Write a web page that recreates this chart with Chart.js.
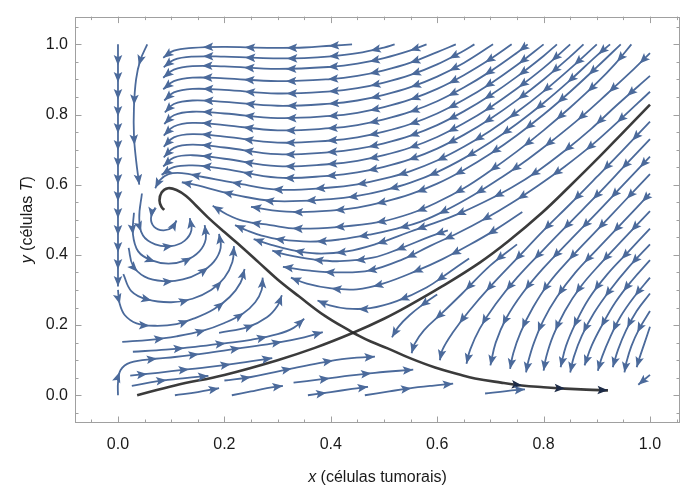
<!DOCTYPE html>
<html>
<head>
<meta charset="utf-8">
<script src="https://cdn.jsdelivr.net/npm/chart.js@4.4.1/dist/chart.umd.min.js"></script>
<style>
  html, body { margin: 0; padding: 0; background: #ffffff; }
  canvas { display: block; }
</style>
</head>
<body>
<canvas id="phase" width="681" height="489"></canvas>
<script>
// ---- axes ----
const xRange = [-0.0808, 1.0564];
const yRange = [-0.0791, 1.0791];
const xTicks = [0, 0.2, 0.4, 0.6, 0.8, 1.0];
const yTicks = [0, 0.2, 0.4, 0.6, 0.8, 1.0];
const xTickLabels = ['0.0', '0.2', '0.4', '0.6', '0.8', '1.0'];
const yTickLabels = ['0.0', '0.2', '0.4', '0.6', '0.8', '1.0'];

// ---- separatrices through the saddle ----
const stableManifold = [[0.036,0.0],[0.107,0.028],[0.2,0.058],[0.3,0.1],[0.37,0.135],[0.442,0.178],[0.5,0.218],[0.545,0.254],[0.609,0.31],[0.68,0.378],[0.733,0.438],[0.797,0.52],[0.85,0.597],[0.9,0.672],[0.95,0.75],[1.0,0.828]];
const unstableLeft = [[0.442,0.178],[0.389,0.226],[0.34,0.282],[0.3,0.33],[0.265,0.378],[0.233,0.422],[0.2,0.465],[0.169,0.507],[0.147,0.54],[0.128,0.568],[0.11,0.585],[0.094,0.59],[0.082,0.578],[0.078,0.555],[0.082,0.536],[0.087,0.528]];
const unstableRight = [[0.442,0.178],[0.475,0.153],[0.508,0.133],[0.55,0.105],[0.596,0.079],[0.64,0.06],[0.671,0.048],[0.72,0.036],[0.759,0.028],[0.8,0.023],[0.84,0.019],[0.88,0.016],[0.921,0.014]];

// ---- streamlines, each listed in the direction of the flow ----
const topFamily = [
  [[0.44,1.0],[0.4,0.996],[0.35,0.991],[0.3,0.99],[0.25,0.991],[0.2,0.993],[0.14,0.99],[0.105,0.982],[0.085,0.962]],
  [[0.52,1.0],[0.5,0.991],[0.45,0.975],[0.4,0.966],[0.35,0.961],[0.3,0.96],[0.25,0.962],[0.2,0.965],[0.14,0.965],[0.105,0.956],[0.086,0.935]],
  [[0.58,1.0],[0.55,0.983],[0.5,0.961],[0.45,0.945],[0.4,0.936],[0.3,0.93],[0.2,0.937],[0.14,0.938],[0.105,0.928],[0.085,0.905]],
  [[0.635,1.0],[0.6,0.978],[0.55,0.948],[0.5,0.926],[0.45,0.91],[0.4,0.901],[0.3,0.895],[0.2,0.903],[0.14,0.905],[0.105,0.895],[0.085,0.872]],
  [[0.67,1.0],[0.65,0.982],[0.6,0.943],[0.55,0.913],[0.5,0.891],[0.45,0.875],[0.4,0.866],[0.3,0.86],[0.2,0.87],[0.14,0.873],[0.105,0.863],[0.087,0.84]],
  [[0.705,1.0],[0.65,0.947],[0.6,0.908],[0.55,0.878],[0.5,0.856],[0.45,0.84],[0.4,0.831],[0.3,0.825],[0.2,0.836],[0.14,0.84],[0.105,0.83],[0.088,0.806]],
  [[0.74,1.0],[0.7,0.958],[0.65,0.912],[0.6,0.873],[0.55,0.843],[0.5,0.821],[0.45,0.805],[0.4,0.796],[0.3,0.79],[0.2,0.803],[0.14,0.808],[0.105,0.798],[0.087,0.773]],
  [[0.77,1.0],[0.75,0.976],[0.7,0.923],[0.65,0.877],[0.6,0.838],[0.55,0.808],[0.5,0.786],[0.45,0.77],[0.4,0.761],[0.3,0.755],[0.2,0.77],[0.14,0.776],[0.105,0.766],[0.086,0.74]],
  [[0.8,1.0],[0.75,0.941],[0.7,0.888],[0.65,0.842],[0.6,0.803],[0.55,0.773],[0.5,0.751],[0.45,0.735],[0.4,0.726],[0.3,0.72],[0.2,0.737],[0.14,0.744],[0.105,0.735],[0.086,0.708]],
  [[0.825,1.0],[0.8,0.967],[0.75,0.908],[0.7,0.855],[0.65,0.809],[0.6,0.77],[0.55,0.74],[0.5,0.718],[0.45,0.702],[0.4,0.693],[0.3,0.687],[0.2,0.706],[0.14,0.714],[0.105,0.705],[0.086,0.678]],
  [[0.85,1.0],[0.8,0.933],[0.75,0.874],[0.7,0.821],[0.65,0.775],[0.6,0.736],[0.55,0.706],[0.5,0.684],[0.45,0.668],[0.4,0.659],[0.3,0.653],[0.2,0.674],[0.14,0.684],[0.105,0.677],[0.085,0.652]],
  [[0.875,1.0],[0.85,0.965],[0.8,0.9],[0.75,0.841],[0.7,0.788],[0.65,0.742],[0.6,0.703],[0.55,0.673],[0.5,0.651],[0.45,0.635],[0.4,0.626],[0.3,0.62],[0.2,0.645],[0.14,0.655],[0.105,0.65],[0.082,0.628]],
  [[0.9,1.0],[0.85,0.931],[0.8,0.866],[0.75,0.807],[0.7,0.754],[0.65,0.708],[0.6,0.669],[0.55,0.639],[0.5,0.617],[0.45,0.601],[0.4,0.592],[0.3,0.586],[0.22,0.605],[0.16,0.622],[0.12,0.633],[0.095,0.63],[0.078,0.612],[0.07,0.59]],
  [[0.925,1.0],[0.9,0.968],[0.85,0.898],[0.8,0.833],[0.75,0.774],[0.7,0.721],[0.65,0.675],[0.6,0.636],[0.55,0.606],[0.5,0.584],[0.45,0.568],[0.4,0.559],[0.3,0.553],[0.24,0.565],[0.19,0.582],[0.15,0.598],[0.12,0.607]],
  [[0.945,1.0],[0.9,0.935],[0.85,0.865],[0.8,0.8],[0.75,0.741],[0.7,0.688],[0.65,0.642],[0.6,0.603],[0.55,0.573],[0.5,0.551],[0.45,0.535],[0.4,0.526],[0.34,0.522],[0.29,0.527],[0.25,0.537]]
];

const saddleFamily = [
  [[0.965,1.0],[0.935,0.945],[0.9,0.89],[0.85,0.82],[0.8,0.755],[0.75,0.695],[0.7,0.64],[0.65,0.59],[0.6,0.55],[0.55,0.518],[0.492,0.494],[0.417,0.48],[0.336,0.475],[0.286,0.485],[0.235,0.497],[0.205,0.515],[0.178,0.54]],
  [[1.0,0.975],[0.97,0.93],[0.92,0.86],[0.87,0.792],[0.82,0.73],[0.77,0.672],[0.72,0.62],[0.67,0.572],[0.62,0.53],[0.568,0.494],[0.524,0.475],[0.474,0.458],[0.417,0.444],[0.361,0.438],[0.305,0.444],[0.27,0.455],[0.245,0.468],[0.22,0.485]],
  [[1.0,0.91],[0.94,0.83],[0.89,0.76],[0.84,0.697],[0.79,0.64],[0.74,0.592],[0.69,0.552],[0.64,0.517],[0.586,0.486],[0.549,0.466],[0.487,0.432],[0.43,0.41],[0.374,0.404],[0.323,0.415],[0.285,0.43],[0.255,0.445]],
  [[0.62,0.47],[0.586,0.452],[0.53,0.418],[0.479,0.392],[0.417,0.382],[0.367,0.387],[0.318,0.4],[0.29,0.412]],
  [[1.0,0.865],[0.94,0.78],[0.89,0.712],[0.84,0.652],[0.79,0.598],[0.74,0.548],[0.69,0.503],[0.64,0.463],[0.586,0.425],[0.536,0.388],[0.474,0.356],[0.417,0.35],[0.361,0.355],[0.31,0.366]],
  [[0.76,0.522],[0.71,0.472],[0.66,0.428],[0.61,0.388],[0.562,0.355],[0.498,0.318],[0.449,0.302],[0.398,0.305],[0.355,0.318],[0.325,0.335]],
  [[0.66,0.39],[0.62,0.348],[0.58,0.307],[0.524,0.268],[0.474,0.248],[0.43,0.247],[0.398,0.256],[0.375,0.27]]
];

const lowerRight = [
  [[0.6,0.287],[0.577,0.263],[0.548,0.228],[0.527,0.195],[0.515,0.165]],
  [[0.75,0.43],[0.7,0.37],[0.647,0.29],[0.609,0.234],[0.575,0.185],[0.557,0.145],[0.552,0.12]],
  [[1.0,0.78],[0.95,0.7],[0.9,0.622],[0.85,0.545],[0.8,0.47],[0.75,0.39],[0.7,0.31],[0.66,0.24],[0.63,0.18],[0.61,0.13],[0.605,0.1]],
  [[1.0,0.73],[0.95,0.65],[0.9,0.57],[0.85,0.493],[0.8,0.415],[0.75,0.335],[0.71,0.26],[0.68,0.19],[0.662,0.13],[0.655,0.09]],
  [[1.0,0.68],[0.95,0.6],[0.9,0.52],[0.85,0.442],[0.8,0.363],[0.76,0.29],[0.73,0.22],[0.71,0.15],[0.7,0.085]],
  [[1.0,0.63],[0.95,0.55],[0.9,0.47],[0.85,0.39],[0.81,0.32],[0.78,0.25],[0.757,0.18],[0.743,0.12],[0.737,0.075]],
  [[1.0,0.575],[0.95,0.495],[0.9,0.415],[0.86,0.35],[0.825,0.28],[0.8,0.215],[0.782,0.15],[0.771,0.095],[0.767,0.065]],
  [[1.0,0.525],[0.95,0.445],[0.91,0.38],[0.87,0.31],[0.84,0.24],[0.818,0.17],[0.805,0.11],[0.8,0.07]],
  [[1.0,0.475],[0.96,0.41],[0.92,0.345],[0.885,0.275],[0.86,0.205],[0.842,0.14],[0.832,0.08]],
  [[1.0,0.43],[0.96,0.365],[0.925,0.3],[0.895,0.235],[0.872,0.17],[0.857,0.11],[0.85,0.065]],
  [[1.0,0.385],[0.965,0.325],[0.935,0.265],[0.91,0.2],[0.89,0.14],[0.877,0.085]],
  [[1.0,0.335],[0.97,0.28],[0.945,0.225],[0.925,0.165],[0.91,0.11],[0.902,0.07]],
  [[1.0,0.29],[0.975,0.24],[0.955,0.185],[0.94,0.13],[0.93,0.08]],
  [[1.0,0.24],[0.98,0.19],[0.965,0.14],[0.955,0.09],[0.952,0.065]],
  [[1.0,0.195],[0.99,0.15],[0.98,0.105],[0.975,0.08]],
  [[1.0,0.058],[0.978,0.03]]
];

const spiralArcs = [
  [[0.07,0.535],[0.062,0.505],[0.068,0.48],[0.085,0.47],[0.102,0.478],[0.11,0.498]],
  [[0.045,0.575],[0.04,0.505],[0.047,0.455],[0.07,0.43],[0.1,0.425],[0.125,0.44],[0.138,0.47],[0.135,0.505]],
  [[0.03,0.52],[0.028,0.46],[0.038,0.41],[0.062,0.385],[0.095,0.375],[0.128,0.385],[0.153,0.41],[0.165,0.445],[0.163,0.485]],
  [[0.02,0.42],[0.028,0.37],[0.05,0.338],[0.085,0.325],[0.122,0.33],[0.155,0.35],[0.18,0.38],[0.193,0.42],[0.19,0.46]],
  [[0.01,0.345],[0.025,0.297],[0.055,0.273],[0.1,0.265],[0.14,0.275],[0.175,0.3],[0.2,0.335],[0.215,0.38],[0.218,0.425]]
];

// the x = 0 edge (dense arrows) and the lines just right of it
const edgeLine = [[0.0,1.0],[0.0,0.31]];
const leftColumn = [
  [[0.055,1.0],[0.042,0.955],[0.034,0.9],[0.03,0.82],[0.03,0.74],[0.034,0.67],[0.04,0.6]],
  [[0.0,0.3],[0.003,0.262],[0.013,0.228],[0.035,0.205],[0.07,0.198],[0.11,0.203],[0.145,0.22],[0.18,0.245],[0.21,0.28],[0.23,0.32],[0.238,0.36]]
];

const wedgeLines = [
  [[0.0,0.0],[0.0,0.035],[0.005,0.072],[0.023,0.093],[0.07,0.104],[0.107,0.109],[0.17,0.121],[0.233,0.135],[0.3,0.15],[0.35,0.165],[0.385,0.18]],
  [[0.023,0.056],[0.075,0.064],[0.126,0.073],[0.169,0.08],[0.22,0.09],[0.29,0.106]],
  [[0.026,0.027],[0.075,0.04],[0.126,0.049],[0.17,0.055]],
  [[0.028,0.124],[0.09,0.13],[0.145,0.138],[0.2,0.148],[0.25,0.158],[0.3,0.174],[0.33,0.192],[0.35,0.218]],
  [[0.19,0.178],[0.245,0.195],[0.28,0.222],[0.3,0.255],[0.308,0.285]],
  [[0.008,0.152],[0.06,0.158],[0.11,0.168],[0.16,0.184],[0.2,0.206],[0.235,0.233],[0.258,0.265],[0.27,0.3],[0.272,0.335]]
];

const bottomLines = [
  [[0.107,0.0],[0.15,0.009],[0.19,0.02]],
  [[0.214,0.0],[0.25,0.011],[0.28,0.02],[0.31,0.027]],
  [[0.357,0.0],[0.4,0.009],[0.44,0.018],[0.47,0.024]],
  [[0.464,0.0],[0.51,0.011],[0.545,0.019],[0.59,0.027],[0.63,0.033]],
  [[0.33,0.036],[0.38,0.045],[0.42,0.053],[0.483,0.064],[0.555,0.073]],
  [[0.2,0.042],[0.25,0.052],[0.295,0.066],[0.333,0.078],[0.38,0.092],[0.421,0.103],[0.483,0.11]],
  [[0.69,0.005],[0.73,0.012],[0.765,0.017]]
];

// ---- styling ----
const STREAM = '#4b6a9b';
const SEPARATRIX = 'rgba(38,38,38,0.9)';
const FONT = '"Liberation Sans", Arial, Helvetica, sans-serif';

const toXY = line => line.map(([x, y]) => ({ x, y }));
const datasets = [];

// separatrices first so that they sit above the streamlines
datasets.push({ data: toXY(unstableRight), borderColor: SEPARATRIX, borderWidth: 2.6, arrowSpacing: 43, maxArrows: 3, arrowColor: '#1d2b47' });
datasets.push({ data: toXY(unstableLeft), borderColor: SEPARATRIX, borderWidth: 2.6 });
datasets.push({ data: toXY(stableManifold), borderColor: SEPARATRIX, borderWidth: 2.6 });

function addStreams(group, spacing) {
  group.forEach(line => datasets.push({
    data: toXY(line), borderColor: STREAM, borderWidth: 1.8,
    arrowSpacing: spacing, arrowColor: STREAM
  }));
}
addStreams([edgeLine], 17);
addStreams(topFamily, 42);
addStreams(saddleFamily, 42);
addStreams(lowerRight, 42);
addStreams(spiralArcs, 38);
addStreams(leftColumn, 40);
addStreams(wedgeLines, 42);
addStreams(bottomLines, 42);

// sample the drawn bezier path of a line element in pixel space
function samplePath(pts) {
  const out = [[pts[0].x, pts[0].y]];
  for (let i = 0; i < pts.length - 1; i++) {
    const a = pts[i], b = pts[i + 1];
    const c1x = a.cp2x ?? a.x, c1y = a.cp2y ?? a.y;
    const c2x = b.cp1x ?? b.x, c2y = b.cp1y ?? b.y;
    for (let k = 1; k <= 20; k++) {
      const t = k / 20, u = 1 - t;
      out.push([
        u*u*u*a.x + 3*u*u*t*c1x + 3*u*t*t*c2x + t*t*t*b.x,
        u*u*u*a.y + 3*u*u*t*c1y + 3*u*t*t*c2y + t*t*t*b.y
      ]);
    }
  }
  return out;
}

function drawHead(ctx, x, y, dx, dy, color) {
  const len = 10.5, half = 4.3, notch = 2.2;
  const n = Math.hypot(dx, dy) || 1;
  const ux = dx / n, uy = dy / n, px = -uy, py = ux;
  ctx.beginPath();
  ctx.moveTo(x, y);
  ctx.lineTo(x - ux*len + px*half, y - uy*len + py*half);
  ctx.lineTo(x - ux*(len - notch), y - uy*(len - notch));
  ctx.lineTo(x - ux*len - px*half, y - uy*len - py*half);
  ctx.closePath();
  ctx.fillStyle = color;
  ctx.fill();
}

const arrowPlugin = {
  id: 'streamArrows',
  afterDatasetsDraw(chart) {
    const ctx = chart.ctx, area = chart.chartArea;
    ctx.save();
    ctx.beginPath();
    ctx.rect(area.left, area.top, area.right - area.left, area.bottom - area.top);
    ctx.clip();
    chart.data.datasets.forEach((ds, i) => {
      if (!ds.arrowSpacing) return;
      const pts = chart.getDatasetMeta(i).data;
      if (!pts || pts.length < 2) return;
      const path = samplePath(pts);
      const cum = [0];
      for (let k = 1; k < path.length; k++) {
        cum.push(cum[k - 1] + Math.hypot(path[k][0] - path[k-1][0], path[k][1] - path[k-1][1]));
      }
      const total = cum[cum.length - 1];
      let count = 0;
      for (let s = total; s > 11; s -= ds.arrowSpacing) {
        if (ds.maxArrows && count >= ds.maxArrows) break;
        let j = 1;
        while (j < cum.length - 1 && cum[j] < s) j++;
        const seg = cum[j] - cum[j - 1] || 1;
        const f = (s - cum[j - 1]) / seg;
        const x = path[j-1][0] + (path[j][0] - path[j-1][0]) * f;
        const y = path[j-1][1] + (path[j][1] - path[j-1][1]) * f;
        const j0 = Math.max(0, j - 3);
        const dx = x - path[j0][0], dy = y - path[j0][1];
        drawHead(ctx, x, y, dx || (path[j][0] - path[j-1][0]), dy || (path[j][1] - path[j-1][1]), ds.arrowColor);
        count++;
      }
    });
    ctx.restore();
  }
};

// frame with inward ticks on all four sides
const framePlugin = {
  id: 'frameTicks',
  afterDraw(chart) {
    const ctx = chart.ctx, a = chart.chartArea;
    const xs = chart.scales.x, ys = chart.scales.y;
    ctx.save();
    ctx.strokeStyle = '#a0a0a0';
    ctx.lineWidth = 1;
    ctx.strokeRect(Math.round(a.left) + 0.5, Math.round(a.top) + 0.5,
                   Math.round(a.right - a.left) - 1, Math.round(a.bottom - a.top) - 1);
    const step = 0.05;
    ctx.beginPath();
    for (let v = Math.ceil(xRange[0] / step) * step; v <= xRange[1] + 1e-9; v += step) {
      const major = Math.abs(v / 0.2 - Math.round(v / 0.2)) < 1e-6;
      const L = major ? 6.5 : 3.5;
      const px = Math.round(xs.getPixelForValue(v)) + 0.5;
      ctx.moveTo(px, a.bottom); ctx.lineTo(px, a.bottom - L);
      ctx.moveTo(px, a.top); ctx.lineTo(px, a.top + L);
    }
    for (let v = Math.ceil(yRange[0] / step) * step; v <= yRange[1] + 1e-9; v += step) {
      const major = Math.abs(v / 0.2 - Math.round(v / 0.2)) < 1e-6;
      const L = major ? 6.5 : 3.5;
      const py = Math.round(ys.getPixelForValue(v)) + 0.5;
      ctx.moveTo(a.left, py); ctx.lineTo(a.left + L, py);
      ctx.moveTo(a.right, py); ctx.lineTo(a.right - L, py);
    }
    ctx.stroke();
    ctx.restore();
  }
};

// axis titles with italic variable names
function drawRich(ctx, parts, size) {
  let w = 0;
  parts.forEach(p => { ctx.font = (p.i ? 'italic ' : '') + size + 'px ' + FONT; p.w = ctx.measureText(p.t).width; w += p.w; });
  let x = -w / 2;
  parts.forEach(p => { ctx.font = (p.i ? 'italic ' : '') + size + 'px ' + FONT; ctx.fillText(p.t, x, 0); x += p.w; });
}
const titlePlugin = {
  id: 'axisTitles',
  afterDraw(chart) {
    const ctx = chart.ctx, a = chart.chartArea;
    ctx.save();
    ctx.fillStyle = '#1a1a1a';
    ctx.textBaseline = 'alphabetic';
    ctx.textAlign = 'left';
    ctx.save();
    ctx.translate((a.left + a.right) / 2, 482);
    drawRich(ctx, [{ t: 'x', i: true }, { t: ' (células tumorais)' }], 16);
    ctx.restore();
    ctx.save();
    ctx.translate(32, (a.top + a.bottom) / 2);
    ctx.rotate(-Math.PI / 2);
    drawRich(ctx, [{ t: 'y', i: true }, { t: ' (células ' }, { t: 'T', i: true }, { t: ')' }], 16);
    ctx.restore();
    ctx.restore();
  }
};

new Chart(document.getElementById('phase'), {
  type: 'scatter',
  data: { datasets },
  options: {
    responsive: false,
    animation: false,
    devicePixelRatio: 1,
    events: [],
    showLine: true,
    layout: { padding: { top: 13, right: 1, left: 0, bottom: 0 } },
    plugins: { legend: { display: false }, tooltip: { enabled: false } },
    elements: {
      point: { radius: 0, hoverRadius: 0 },
      line: { tension: 0.4, fill: false, borderCapStyle: 'butt', borderJoinStyle: 'round' }
    },
    scales: {
      x: {
        type: 'linear', min: xRange[0], max: xRange[1],
        grid: { display: false, drawTicks: false }, border: { display: false },
        afterBuildTicks: s => { s.ticks = xTicks.map(v => ({ value: v })); },
        afterFit: s => { s.height = 66; },
        ticks: {
          autoSkip: false, maxRotation: 0, padding: 12, color: '#1a1a1a',
          font: { family: FONT, size: 16 },
          callback: (v, i) => xTickLabels[i]
        }
      },
      y: {
        type: 'linear', min: yRange[0], max: yRange[1],
        grid: { display: false, drawTicks: false }, border: { display: false },
        afterBuildTicks: s => { s.ticks = yTicks.map(v => ({ value: v })); },
        afterFit: s => { s.width = 75; },
        ticks: {
          autoSkip: false, padding: 7, color: '#1a1a1a',
          font: { family: FONT, size: 16 },
          callback: (v, i) => yTickLabels[i]
        }
      }
    }
  },
  plugins: [arrowPlugin, framePlugin, titlePlugin]
});
</script>
</body>
</html>
